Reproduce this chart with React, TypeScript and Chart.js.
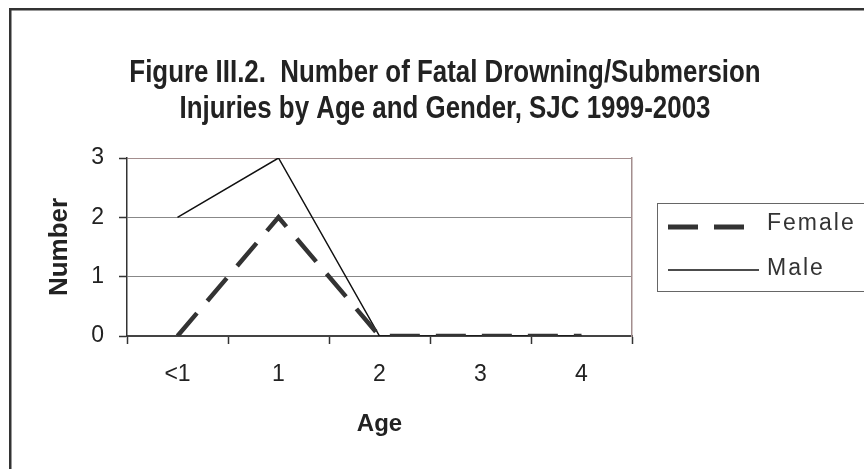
import React, { useEffect, useRef } from 'react';
import { Chart, registerables } from 'chart.js';

Chart.register(...registerables);

const titleLines = [
  'Figure III.2.  Number of Fatal Drowning/Submersion',
  'Injuries by Age and Gender, SJC 1999-2003',
];
const ageCategories = ['<1', '1', '2', '3', '4'];
const femaleValues = [0, 2, 0, 0, 0];
const maleValues = [2, 3, 0, 0, 0];
const seriesLabels = ['Female', 'Male'];
const yMin = 0;
const yMax = 3;
const yStep = 1;
const xAxisTitle = 'Age';
const yAxisTitle = 'Number';

const SANS = "'Liberation Sans', Arial, Helvetica, sans-serif";
const BORDER_MAUVE = '#a38e8e';
const LEFT_PAD = 26;
const TITLE_SPACE = 158;

const framePlugin = {
  id: 'frameTitleLegend',
  beforeDraw(chart: any) {
    const ctx = chart.ctx;
    ctx.save();
    ctx.fillStyle = '#ffffff';
    ctx.fillRect(0, 0, chart.width, chart.height);
    ctx.strokeStyle = '#333333';
    ctx.lineWidth = 2.5;
    ctx.strokeRect(10.25, 9.25, chart.width + 40, chart.height + 40);
    ctx.restore();
  },
  afterDraw(chart: any) {
    const ctx = chart.ctx;
    const area = chart.chartArea;

    // Title (condensed bold, like the original narrow face)
    ctx.save();
    ctx.fillStyle = '#222222';
    ctx.font = `bold 31px ${SANS}`;
    ctx.textAlign = 'center';
    ctx.textBaseline = 'middle';
    const cx = (LEFT_PAD + chart.width) / 2;
    titleLines.forEach((line, i) => {
      ctx.save();
      ctx.translate(cx, 73 + i * 36);
      ctx.scale(0.835, 1);
      ctx.fillText(line, 0, 0);
      ctx.restore();
    });
    ctx.restore();

    // Legend
    const boxX = area.right + 25;
    const boxY = area.top + 45;
    const boxH = 88;
    ctx.save();
    ctx.strokeStyle = '#666666';
    ctx.lineWidth = 1;
    ctx.strokeRect(boxX + 0.5, boxY + 0.5, chart.width, boxH);
    const rows = [
      { y: boxY + 24, textY: boxY + 27, lineEnd: boxX + 91 },
      { y: boxY + 67, textY: boxY + 72, lineEnd: boxX + 102 },
    ];
    chart.data.datasets.forEach((ds: any, i: number) => {
      const r = rows[i];
      ctx.save();
      ctx.strokeStyle = ds.borderColor;
      ctx.lineWidth = i === 0 ? 5 : ds.borderWidth;
      ctx.setLineDash(ds.borderDash || []);
      ctx.lineCap = 'butt';
      ctx.beginPath();
      ctx.moveTo(boxX + 11, r.y);
      ctx.lineTo(r.lineEnd, r.y);
      ctx.stroke();
      ctx.restore();
      ctx.fillStyle = '#333333';
      ctx.font = `23px ${SANS}`;
      (ctx as any).letterSpacing = '2px';
      ctx.textBaseline = 'alphabetic';
      ctx.textAlign = 'left';
      ctx.fillText(ds.label, boxX + 110, r.textY);
    });
    ctx.restore();
  },
};

export default function App() {
  const canvasRef = useRef<HTMLCanvasElement | null>(null);

  useEffect(() => {
    document.body.style.margin = '0';
    const canvas = canvasRef.current;
    if (!canvas) return;
    const chart = new Chart(canvas, {
      type: 'line',
      data: {
        labels: ageCategories,
        datasets: [
          {
            label: seriesLabels[0],
            data: femaleValues,
            borderColor: '#333333',
            borderWidth: 4.5,
            borderDash: [30, 16],
            borderCapStyle: 'butt',
            pointRadius: 0,
            tension: 0,
            fill: false,
          },
          {
            label: seriesLabels[1],
            data: maleValues,
            borderColor: '#111111',
            borderWidth: 1.5,
            pointRadius: 0,
            tension: 0,
            fill: false,
          },
        ],
      },
      options: {
        responsive: false,
        animation: false,
        devicePixelRatio: 1,
        layout: { padding: { left: LEFT_PAD, right: 0, top: TITLE_SPACE, bottom: 0 } },
        plugins: {
          legend: { display: false },
          tooltip: { enabled: false },
          title: { display: false },
        },
        scales: {
          x: {
            type: 'category',
            offset: true,
            grid: {
              offset: true,
              drawOnChartArea: false,
              drawTicks: true,
              tickLength: 8,
              tickColor: '#333333',
              tickWidth: 1.5,
            },
            border: { display: true, color: '#444444', width: 2 },
            ticks: { color: '#222222', font: { family: SANS, size: 23 }, padding: 17 },
            title: {
              display: true,
              text: xAxisTitle,
              color: '#222222',
              font: { family: SANS, size: 24, weight: 'bold' },
              padding: { top: 0, bottom: 30 },
            },
            afterFit(scale: any) {
              scale.height = 133;
            },
          },
          y: {
            min: yMin,
            max: yMax,
            ticks: { stepSize: yStep, color: '#222222', font: { family: SANS, size: 23 }, padding: 15 },
            grid: {
              color: (c: any) => (c.tick && c.tick.value === yMax ? BORDER_MAUVE : '#888888'),
              lineWidth: 1,
              tickLength: 8,
              tickColor: '#333333',
              tickWidth: 1.5,
            },
            border: { display: true, color: '#333333', width: 1.5 },
            title: {
              display: true,
              text: yAxisTitle,
              color: '#222222',
              font: { family: SANS, size: 26, weight: 'bold' },
              padding: { top: 18, bottom: 0 },
            },
            afterFit(scale: any) {
              scale.width = 101;
            },
          },
          yRight: {
            position: 'right',
            min: yMin,
            max: yMax,
            ticks: { display: false },
            grid: { drawOnChartArea: false, drawTicks: false },
            border: { display: true, color: BORDER_MAUVE, width: 1.5 },
            afterFit(scale: any) {
              scale.width = 232;
            },
          },
        },
      } as any,
      plugins: [framePlugin],
    });
    return () => chart.destroy();
  }, []);

  return (
    <div style={{ width: 864, height: 469, overflow: 'hidden' }}>
      <canvas ref={canvasRef} width={864} height={469} style={{ display: 'block' }} />
    </div>
  );
}
